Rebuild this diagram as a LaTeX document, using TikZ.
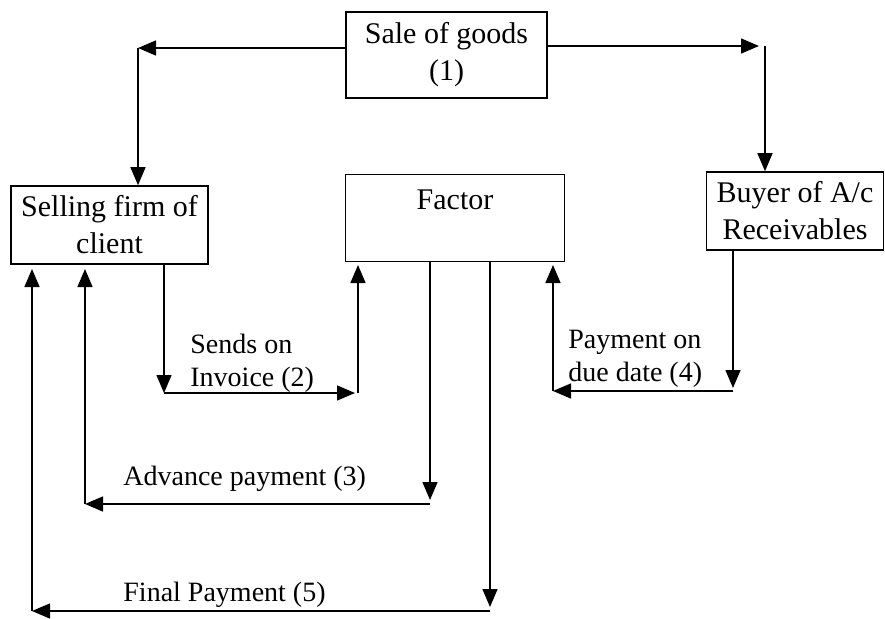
\documentclass[tikz,border=0pt]{standalone}
\usepackage{fontspec}
\setmainfont{Liberation Serif}
\usepackage{tikz}
\usetikzlibrary{arrows.meta,positioning,calc}

\begin{document}
\begin{tikzpicture}[x=0.5pt,y=-0.5pt,
  box/.style={draw,line width=0.8pt,align=center,inner sep=0pt,
    font=\fontsize{15}{18.5}\selectfont},
  arr/.style={-{Triangle[width=7.5pt,length=9pt]},line width=0.7pt},
  lbl/.style={anchor=west,align=left,inner sep=0pt,
    font=\fontsize{14}{16.5}\selectfont}]

  \useasboundingbox (0,0) rectangle (885,618);

  % Nodes
  \node[box,minimum width=100.5pt,minimum height=43pt] (sale) at (446.5,55) {Sale of goods\\(1)};
  \node[box,minimum width=98.5pt,minimum height=39pt] (sell) at (109.5,225) {Selling firm of\\client};
  \node[box,minimum width=109.5pt,minimum height=43.5pt] (factor) at (455,218) {Factor\\\mbox{}};
  \node[box,minimum width=88.5pt,minimum height=39pt] (buyer) at (795,211) {Buyer of A/c\\Receivables};

  % Corners
  \coordinate (lc) at (138,48);
  \coordinate (rc) at (765,46);
  \coordinate (inv) at (164,393);
  \coordinate (due) at (733,391);
  \coordinate (adv) at (430,504);
  \coordinate (fin) at (490,611);

  % Sale of goods
  \draw[arr] (sale.west |- lc) -- (lc);
  \draw[arr] (lc) -- (sell.north -| lc);
  \draw[arr] (sale.east |- rc) -- ($(rc)+(-6,0)$);
  \draw[arr] (rc) -- (buyer.north -| rc);

  % Invoice
  \draw[arr] (sell.south -| inv) -- (inv);
  \draw[arr] (inv) -- (355,393);
  \draw[arr] (358,393) -- (358,265);

  % Payment by buyer
  \draw[arr] (buyer.south -| due) -- ($(due)+(0,-3)$);
  \draw[arr] (due) -- (553,391);
  \draw[arr] (553,391) -- (553,265);

  % Advance
  \draw[arr] (factor.south -| adv) -- ($(adv)+(0,-4)$);
  \draw[arr] (adv) -- (85,504);
  \draw[arr] (85,504) -- (85,269);

  % Final
  \draw[arr] (factor.south -| fin) -- ($(fin)+(0,-4)$);
  \draw[arr] (fin) -- (32,611);
  \draw[arr] (32,611) -- (32,269);

  % Labels
  \node[lbl] (sends) at (190,363) {Sends on\\Invoice (2)};
  \node[lbl] (pay) at (568,359) {Payment on\\due date (4)};
  \node[lbl] (advl) at (123,479) {Advance payment (3)};
  \node[lbl] (finl) at (123,595) {Final Payment (5)};

\end{tikzpicture}
\end{document}
